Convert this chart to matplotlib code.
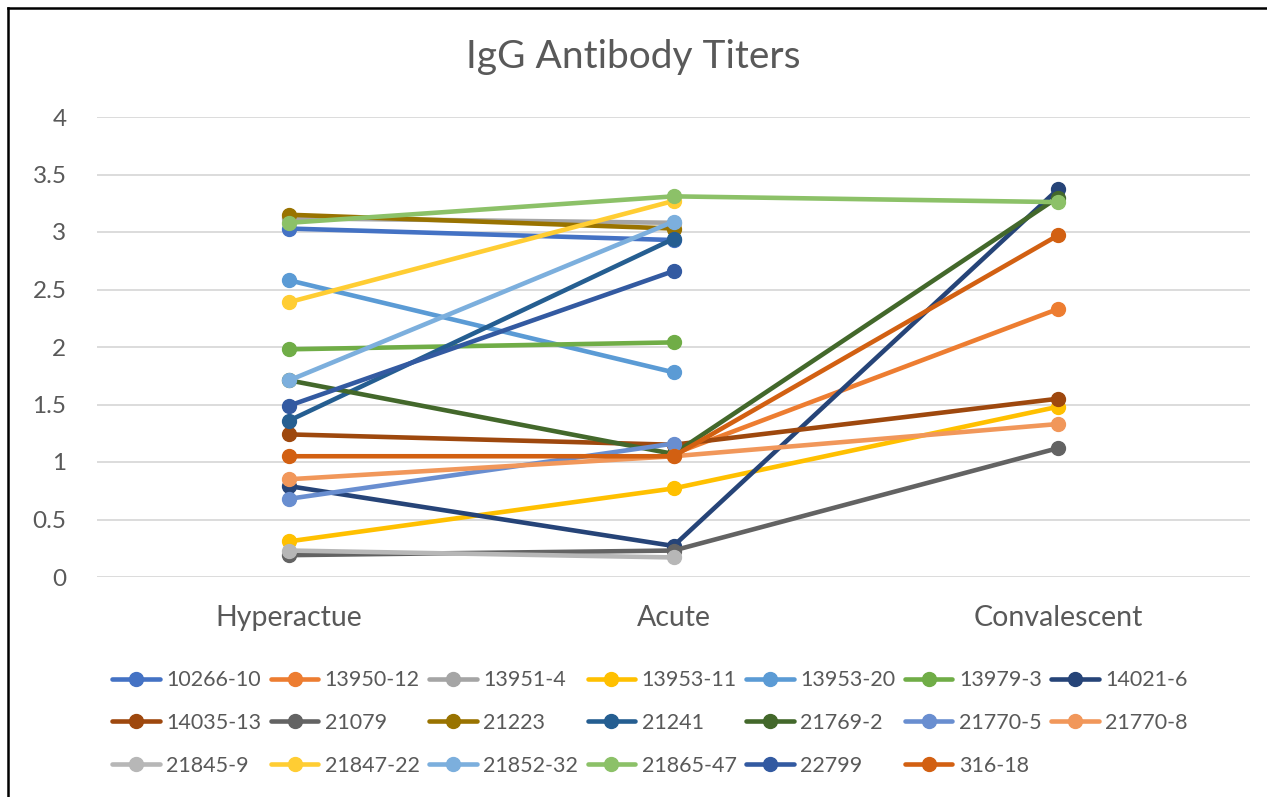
import numpy as np
import matplotlib.pyplot as plt
from matplotlib.lines import Line2D

plt.rcParams['font.family'] = ['Lato', 'DejaVu Sans']

stages = ['Hyperactue', 'Acute', 'Convalescent']

series_names = ['10266-10', '13950-12', '13951-4', '13953-11', '13953-20', '13979-3', '14021-6',
                '14035-13', '21079', '21223', '21241', '21769-2', '21770-5', '21770-8',
                '21845-9', '21847-22', '21852-32', '21865-47', '22799', '316-18']

nan = np.nan
titers = [
    [3.03, 2.93, nan],   # 10266-10
    [nan, 1.07, 2.33],   # 13950-12
    [3.12, 3.08, nan],   # 13951-4
    [0.31, 0.77, 1.48],  # 13953-11
    [2.58, 1.78, nan],   # 13953-20
    [1.98, 2.04, nan],   # 13979-3
    [0.79, 0.27, 3.37],  # 14021-6
    [1.24, 1.15, 1.55],  # 14035-13
    [0.19, 0.23, 1.12],  # 21079
    [3.15, 3.03, nan],   # 21223
    [1.36, 2.94, nan],   # 21241
    [1.71, 1.07, 3.30],  # 21769-2
    [0.68, 1.16, nan],   # 21770-5
    [0.85, 1.05, 1.33],  # 21770-8
    [0.23, 0.17, nan],   # 21845-9
    [2.39, 3.27, nan],   # 21847-22
    [1.71, 3.09, nan],   # 21852-32
    [3.08, 3.31, 3.26],  # 21865-47
    [1.49, 2.66, nan],   # 22799
    [1.05, 1.05, 2.97],  # 316-18
]

colors = ['#4472C4', '#ED7D31', '#A5A5A5', '#FFC000', '#5B9BD5', '#70AD47', '#264478',
          '#9E480E', '#636363', '#997300', '#255E91', '#43682B', '#698ED0', '#F1975A',
          '#B7B7B7', '#FFCD33', '#7CAFDD', '#8CC168', '#335AA1', '#D26012']

fig = plt.figure(figsize=(12.67, 7.97), dpi=100)
ax = fig.add_axes([97 / 1267, 1 - 577 / 797, 1153 / 1267, 460 / 797])

x = np.arange(len(stages))
handles = []
for name, vals, c in zip(series_names, titers, colors):
    h, = ax.plot(x, vals, color=c, lw=3.3, marker='o', ms=10, label=name,
                 solid_capstyle='round')
    handles.append(h)

ax.set_xlim(-0.5, 2.5)
ax.set_ylim(0, 4)
ax.set_yticks(np.arange(0, 4.01, 0.5))
ax.set_yticklabels(['0', '0.5', '1', '1.5', '2', '2.5', '3', '3.5', '4'])
ax.set_xticks(x)
ax.set_xticklabels(stages)
ax.tick_params(axis='both', length=0, colors='#595959')
ax.tick_params(axis='x', pad=20, labelsize=20.5)
ax.tick_params(axis='y', pad=22, labelsize=17.5)
ax.grid(axis='y', color='#D9D9D9', lw=1.3)
ax.set_axisbelow(True)
for s in ax.spines.values():
    s.set_visible(False)

fig.text(0.5, 1 - 57 / 797, 'IgG Antibody Titers', ha='center', va='center',
         fontsize=28, color='#595959')

# legend fills column-wise, so reorder to read row-wise like the original
order = [r * 7 + j for j in range(7) for r in range(3) if r * 7 + j < len(handles)]
fig.legend([handles[i] for i in order], [series_names[i] for i in order],
           loc='upper center', bbox_to_anchor=(0.513, 1 - 651 / 797), ncol=7,
           frameon=False, fontsize=15.5, labelcolor='#595959', handlelength=2.2,
           handletextpad=0.3, columnspacing=0.45, labelspacing=1.05)

# chart border (top and left edges visible in the original crop)
fig.add_artist(Line2D([8 / 1267, 1.0], [1 - 8 / 797] * 2, transform=fig.transFigure,
                      color='black', lw=1.8))
fig.add_artist(Line2D([8 / 1267] * 2, [0.0, 1 - 8 / 797], transform=fig.transFigure,
                      color='black', lw=1.8))

fig.savefig('out.png', dpi=100)
